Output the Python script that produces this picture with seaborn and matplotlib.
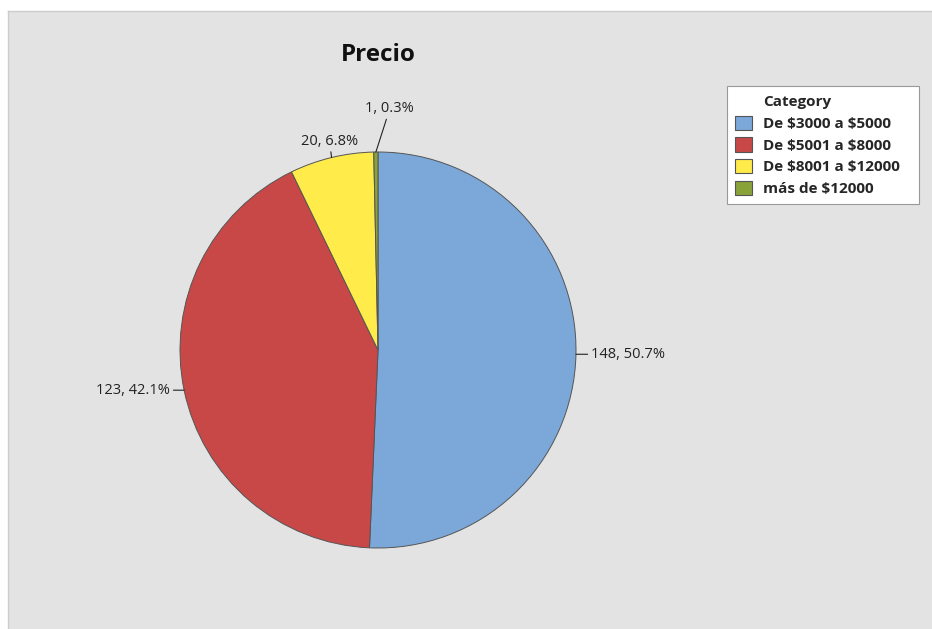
import numpy as np
import matplotlib
matplotlib.use("Agg")
import matplotlib.pyplot as plt
import seaborn as sns
from matplotlib.patches import Patch

categories = ["De \\$3000 a \\$5000", "De \\$5001 a \\$8000", "De \\$8001 a \\$12000", "más de \\$12000"]
counts = [148, 123, 20, 1]
percents = [50.7, 42.1, 6.8, 0.3]
title = "Precio"
legend_title = "Category"

sns.set_style("white")
plt.rcParams['font.family'] = ['Open Sans', 'DejaVu Sans']

palette = sns.color_palette(["#7BA7D9", "#C84848", "#FFEB4A", "#8AA23A"])

W, H = 932, 629
fig = plt.figure(figsize=(W / 100, H / 100), dpi=100)
fig.patch.set_facecolor("white")

# gray background panel
bg = fig.add_axes([8 / W, 0, 1 - 8 / W, 1 - 11 / H])
bg.set_facecolor("#e3e3e3")
bg.set_xticks([]); bg.set_yticks([])
for s in ["top", "left"]:
    bg.spines[s].set_color("#cccccc")
    bg.spines[s].set_linewidth(1)
for s in ["right", "bottom"]:
    bg.spines[s].set_visible(False)

cx, cy, r = 378, 350, 198
ax = fig.add_axes([(cx - r) / W, (H - cy - r) / H, 2 * r / W, 2 * r / H])
ax.set_facecolor("none")
wedges, _ = ax.pie(counts, colors=palette, startangle=90, counterclock=False,
                   radius=1.0, wedgeprops=dict(edgecolor="#555555", linewidth=0.7))
ax.set_xlim(-1, 1); ax.set_ylim(-1, 1)
ax.set_aspect("equal")
ax.axis("off")

labels = [f"{c}, {p}%" for c, p in zip(counts, percents)]
# text offsets in pixels (dx, dy) from the wedge edge and alignment
offsets = [((15, 0), "left", "center"),
           ((-14, 0), "right", "center"),
           ((-2, 9), "center", "bottom"),
           ((14, 36), "center", "bottom")]
for w, lab, (off, ha, va) in zip(wedges, labels, offsets):
    ang = np.deg2rad((w.theta1 + w.theta2) / 2)
    x, y = np.cos(ang), np.sin(ang)
    ax.annotate(lab, xy=(x, y), xytext=off, textcoords="offset pixels",
                ha=ha, va=va, fontsize=10.5, color="#222222",
                arrowprops=dict(arrowstyle="-", color="#222222", lw=0.8,
                                shrinkA=0, shrinkB=0))

fig.text(cx / W, 1 - 55 / H, title, ha="center", va="center",
         fontsize=17.5, fontweight="bold", color="#111111")

handles = [Patch(visible=False)] + [Patch(facecolor=c, edgecolor="#555555", linewidth=0.8) for c in palette]
leg = fig.legend(handles, [legend_title] + categories,
                 loc="upper left", bbox_to_anchor=(727 / W, 1 - 87 / H, 192 / W, 0.001),
                 mode="expand",
                 frameon=True, fancybox=False, borderpad=0.5, borderaxespad=0,
                 handlelength=1.15, handleheight=1.05, handletextpad=0.7,
                 labelspacing=0.42, prop=dict(weight="bold", size=11))
leg.get_frame().set_edgecolor("#999999")
leg.get_frame().set_linewidth(0.8)
leg.get_frame().set_facecolor("white")
leg.get_frame().set_alpha(1)

fig.savefig("out.png", dpi=100)
